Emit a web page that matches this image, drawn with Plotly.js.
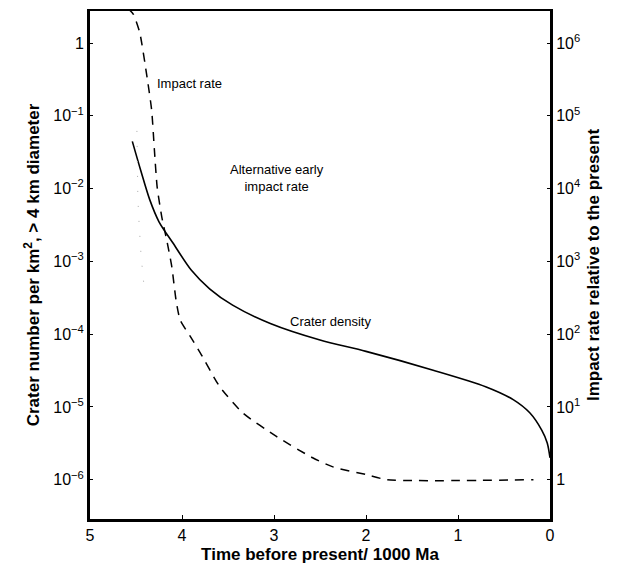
<!DOCTYPE html>
<html>
<head>
<meta charset="utf-8">
<script src="https://cdn.plot.ly/plotly-3.0.1.min.js"></script>
<style>html,body{margin:0;padding:0;background:#fff;}#chart{width:619px;height:578px;}</style>
</head>
<body>
<div id="chart"></div>
<script>
// Crater density (left axis, craters per km^2 > 4 km diameter)
const densityTime = [4.54, 4.45, 4.35, 4.25, 4.10, 3.90, 3.70, 3.45, 3.04, 2.50, 2.00, 1.27, 0.70, 0.40, 0.22, 0.09, 0.03, 0.00];
const densityValues = [4.45e-2, 1.8e-2, 7.0e-3, 3.5e-3, 1.8e-3, 7.6e-4, 4.2e-4, 2.5e-4, 1.4e-4, 8.3e-5, 5.8e-5, 3.2e-5, 1.9e-5, 1.26e-5, 8.3e-6, 4.8e-6, 3.2e-6, 2.0e-6];

// Impact rate relative to present (right axis)
const impactTime = [4.59, 4.53, 4.46, 4.38, 4.33, 4.30, 4.27, 4.22, 4.16, 4.11, 4.065, 4.02, 3.91, 3.80, 3.59, 3.34, 2.97, 2.58, 2.36, 1.99, 1.77, 0.18];
const impactValues = [3e6, 2.5e6, 1.4e6, 3.4e5, 1.2e5, 3.4e4, 1.05e4, 4.1e3, 1.8e3, 830, 295, 157, 93, 55, 19, 8.3, 3.9, 2.0, 1.5, 1.17, 1.0, 1.0];

// Alternative early impact rate (faint dotted, right axis)
const altTime = [4.49, 4.48, 4.467, 4.445, 4.41];
const altValues = [6.2e4, 7.4e3, 3.4e3, 1.2e3, 420];

// Tick labels
const xTicks = [5, 4, 3, 2, 1, 0];
const leftTickVals = [1e-6, 1e-5, 1e-4, 1e-3, 1e-2, 1e-1, 1];
const leftTickText = ['10<sup>−6</sup>', '10<sup>−5</sup>', '10<sup>−4</sup>', '10<sup>−3</sup>', '10<sup>−2</sup>', '10<sup>−1</sup>', '1'];
const rightTickVals = [1, 10, 100, 1e3, 1e4, 1e5, 1e6];
const rightTickText = ['1', '10<sup>1</sup>', '10<sup>2</sup>', '10<sup>3</sup>', '10<sup>4</sup>', '10<sup>5</sup>', '10<sup>6</sup>'];

const font = 'Liberation Sans, Arial, Helvetica, sans-serif';

const traces = [
  {x: densityTime, y: densityValues, type: 'scatter', mode: 'lines', yaxis: 'y',
   line: {color: '#000', width: 1.6, shape: 'spline', smoothing: 0.8}, hoverinfo: 'skip'},
  {x: impactTime, y: impactValues, type: 'scatter', mode: 'lines', yaxis: 'y2',
   line: {color: '#000', width: 1.5, dash: '9px,7px', shape: 'spline', smoothing: 0.6}, hoverinfo: 'skip'},
  {x: altTime, y: altValues, type: 'scatter', mode: 'lines', yaxis: 'y2',
   line: {color: '#aaa', width: 1, dash: '1px,14px'}, hoverinfo: 'skip'}
];

const layout = {
  width: 619, height: 578,
  margin: {l: 90, r: 69, t: 11, b: 59},
  paper_bgcolor: '#fff', plot_bgcolor: '#fff',
  showlegend: false,
  font: {family: font, color: '#000', size: 15},
  xaxis: {
    range: [5, 0], tickvals: xTicks, ticktext: xTicks.map(String),
    showgrid: false, zeroline: false, showline: true, linecolor: '#000', linewidth: 2.5, mirror: true,
    ticks: 'inside', ticklen: 4, tickcolor: '#000',
    tickfont: {family: font, size: 16},
    title: {text: 'Time before present/ 1000 Ma', font: {family: font, size: 17, weight: 'bold'}, standoff: 6}
  },
  yaxis: {
    type: 'log', range: [-6.54, 0.44], tickvals: leftTickVals, ticktext: leftTickText,
    showgrid: false, zeroline: false, showline: true, linecolor: '#000', linewidth: 3,
    ticks: 'inside', ticklen: 3, tickcolor: '#000',
    tickfont: {family: font, size: 16},
    title: {text: 'Crater number per km<sup>2</sup>, > 4 km diameter', font: {family: font, size: 17, weight: 'bold'}, standoff: 10}
  },
  yaxis2: {
    type: 'log', range: [-0.54, 6.44], overlaying: 'y', side: 'right',
    tickvals: rightTickVals, ticktext: rightTickText,
    showgrid: false, zeroline: false, showline: true, linecolor: '#000', linewidth: 3,
    ticks: 'inside', ticklen: 3, tickcolor: '#000',
    tickfont: {family: font, size: 16},
    title: {text: 'Impact rate relative to the present', font: {family: font, size: 17, weight: 'bold'}, standoff: 8}
  },
  annotations: [
    {x: 4.29, y: -0.55, xref: 'x', yref: 'y', text: 'Impact rate', showarrow: false, xanchor: 'left', yanchor: 'middle', font: {family: font, size: 13}},
    {x: 2.97, y: -1.85, xref: 'x', yref: 'y', text: 'Alternative early<br>impact rate', showarrow: false, xanchor: 'center', yanchor: 'middle', font: {family: font, size: 13}},
    {x: 2.39, y: -3.83, xref: 'x', yref: 'y', text: 'Crater density', showarrow: false, xanchor: 'center', yanchor: 'middle', font: {family: font, size: 13}}
  ]
};

Plotly.newPlot('chart', traces, layout, {staticPlot: true, displayModeBar: false});
</script>
</body>
</html>
